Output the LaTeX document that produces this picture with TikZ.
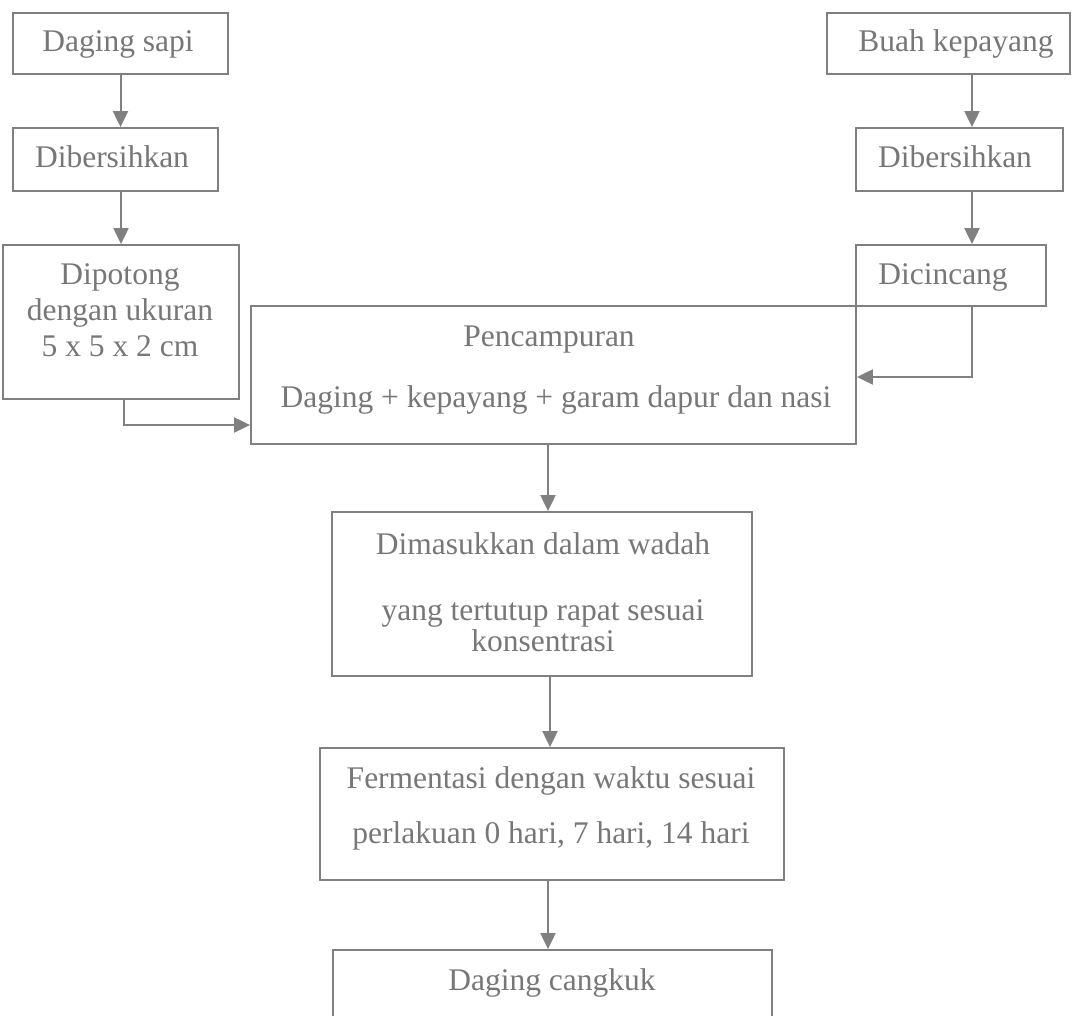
\documentclass[tikz,border=0pt]{standalone}
\usepackage{fontspec}
\setmainfont{Liberation Serif}
\usetikzlibrary{arrows.meta}
\definecolor{ln}{HTML}{808080}
\definecolor{tx}{HTML}{777777}
\begin{document}
\begin{tikzpicture}[x=1pt,y=-1pt,
  box/.style={draw=ln, line width=1.8pt, rectangle, inner sep=0pt},
  txt/.style={text=tx, font=\fontsize{31.5}{36}\selectfont, inner sep=0pt, anchor=base},
  arr/.style={draw=ln, line width=2pt, -{Triangle[length=16pt,width=15pt]}}]
\useasboundingbox (0,0) rectangle (1072,1016);
\clip (0,0) rectangle (1072,1016);
% boxes
\node[box, minimum width=215pt, minimum height=61pt] (ds) at (120.5,43.5) {};
\node[box, minimum width=205pt, minimum height=63pt] (db1) at (115.5,159.5) {};
\node[box, minimum width=236pt, minimum height=154pt] (dp) at (121,322) {};
\node[box, minimum width=243pt, minimum height=61pt] (bk) at (948.5,43.5) {};
\node[box, minimum width=207pt, minimum height=63pt] (db2) at (959.5,159.5) {};
\node[box, minimum width=190pt, minimum height=61pt] (dc) at (951,275.5) {};
\node[box, minimum width=605pt, minimum height=138pt] (pc) at (553.5,375) {};
\node[box, minimum width=420pt, minimum height=164pt] (dm) at (542,594) {};
\node[box, minimum width=464pt, minimum height=132pt] (fm) at (552,814) {};
\node[box, minimum width=439pt, minimum height=80pt] (cg) at (552.5,990) {};
% texts
\node[txt] (t1) at (118,52) {Daging sapi};
\node[txt] (t2) at (112,168) {Dibersihkan};
\node[txt] (t3a) at (120,285) {Dipotong};
\node[txt] (t3b) at (120,321) {dengan ukuran};
\node[txt] (t3c) at (120,357) {5 x 5 x 2 cm};
\node[txt] (t4) at (956,52) {Buah kepayang};
\node[txt] (t5) at (955,168) {Dibersihkan};
\node[txt] (t6) at (943,285) {Dicincang};
\node[txt] (t7a) at (549,347) {Pencampuran};
\node[txt] (t7b) at (556,408) {Daging + kepayang + garam dapur dan nasi};
\node[txt] (t8a) at (543,554) {Dimasukkan dalam wadah};
\node[txt] (t8b) at (543,620) {yang tertutup rapat sesuai};
\node[txt] (t8c) at (543,651) {konsentrasi};
\node[txt] (t9a) at (551,788) {Fermentasi dengan waktu sesuai};
\node[txt] (t9b) at (551,843) {perlakuan 0 hari, 7 hari, 14 hari};
\node[txt] (t10) at (552,990) {Daging cangkuk};
% helper coordinates
\coordinate (rx) at (972,377);
\coordinate (lx) at (124,425);
\coordinate (c1) at (548,0);
\coordinate (c2) at (550,0);
% connectors
\draw[arr] (ds.south) -- (db1.north -| ds.south);
\draw[arr] (dp.north |- db1.south) -- (dp.north);
\draw[arr] (bk.south -| rx) -- (db2.north -| rx);
\draw[arr] (db2.south -| rx) -- (dc.north -| rx);
\draw[arr] (dc.south -| rx) -- (rx) -- (pc.east |- rx);
\draw[arr] (dp.south -| lx) -- (lx) -- (pc.west |- lx);
\draw[arr] (pc.south -| c1) -- (dm.north -| c1);
\draw[arr] (dm.south -| c2) -- (fm.north -| c2);
\draw[arr] (fm.south -| c1) -- (cg.north -| c1);
\end{tikzpicture}
\end{document}
